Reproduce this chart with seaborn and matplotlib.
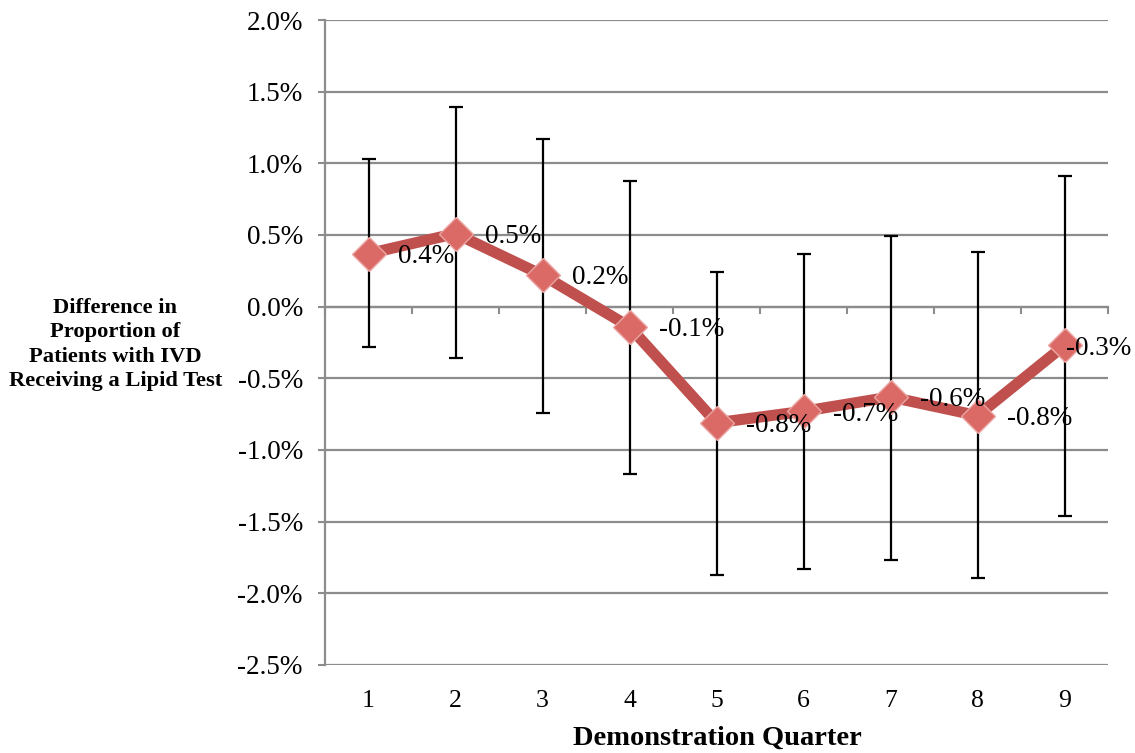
import matplotlib
matplotlib.use("Agg")
import matplotlib.pyplot as plt
import seaborn as sns
import pandas as pd
from matplotlib.ticker import FuncFormatter

# Difference in proportion of IVD patients receiving a lipid test, by quarter (%)
quarters = [1, 2, 3, 4, 5, 6, 7, 8, 9]
difference = [0.37, 0.51, 0.22, -0.14, -0.81, -0.73, -0.63, -0.76, -0.27]
ci_lower = [-0.28, -0.36, -0.74, -1.17, -1.87, -1.83, -1.77, -1.89, -1.46]
ci_upper = [1.03, 1.39, 1.17, 0.88, 0.24, 0.37, 0.49, 0.38, 0.91]
y_ticks = [-2.5, -2.0, -1.5, -1.0, -0.5, 0.0, 0.5, 1.0, 1.5, 2.0]
x_label = "Demonstration Quarter"
y_label = "Difference in\nProportion of\nPatients with IVD\nReceiving a Lipid Test"

df = pd.DataFrame({"quarter": quarters, "difference": difference,
                   "lower": ci_lower, "upper": ci_upper})

sns.set_theme(style="white")
plt.rcParams["font.family"] = ["Liberation Serif", "DejaVu Serif"]
plt.rcParams["text.color"] = "black"

W, H, DPI = 1135, 753, 100
fig = plt.figure(figsize=(W / DPI, H / DPI), dpi=DPI)
ax = fig.add_axes([325 / W, 88 / H, 783 / W, 645 / H])

GRID = "#8C8C8C"
RED = "#C0504D"

# confidence intervals
ax.errorbar(df["quarter"], df["difference"],
            yerr=[df["difference"] - df["lower"], df["upper"] - df["difference"]],
            fmt="none", ecolor="black", elinewidth=1.6, capsize=5,
            capthick=1.6, zorder=3)

# the series itself
sns.lineplot(data=df, x="quarter", y="difference", ax=ax, color=RED,
             linewidth=8, marker="D", markersize=17,
             markerfacecolor="#DB6A66", markeredgecolor="#EBA5A2",
             markeredgewidth=1.0, zorder=4)

ax.set_xlim(0.5, 9.5)
ax.set_ylim(y_ticks[0], y_ticks[-1])
ax.set_yticks(y_ticks)
ax.yaxis.set_major_formatter(FuncFormatter(lambda v, _: f"{v:.1f}%"))
ax.set_xticks(quarters)
ax.set_xticklabels([str(q) for q in quarters])

ax.yaxis.grid(True, color=GRID, linewidth=1.6, zorder=0)
ax.xaxis.grid(False)
for side in ["top", "right", "bottom"]:
    ax.spines[side].set_visible(False)
ax.spines["left"].set_color(GRID)
ax.spines["left"].set_linewidth(1.6)

ax.tick_params(axis="y", direction="out", left=True, length=5, width=1.5,
               color=GRID, pad=11, labelsize=19.5, labelcolor="black")
ax.tick_params(axis="x", length=0, pad=18, labelsize=18.5, labelcolor="black")

# category axis crossing at zero, with ticks between quarters
zero_axis = ax.secondary_xaxis(0, transform=ax.transData)
zero_axis.set_alignment("bottom")
zero_axis.set_xticks([q - 0.5 for q in quarters] + [quarters[-1] + 0.5])
zero_axis.tick_params(axis="x", direction="out", length=5, width=1.5,
                      color=GRID, labelbottom=False)
zero_axis.spines["bottom"].set_color(GRID)
zero_axis.spines["bottom"].set_linewidth(1.6)

ax.set_xlabel(x_label, fontweight="bold", fontsize=20.5, va="center",
              color="black")
ax.xaxis.set_label_coords(0.5006, -0.113)
ax.set_ylabel(y_label, rotation=0, fontweight="bold", fontsize=16.2,
              ha="center", va="center", linespacing=1.3, color="black")
ax.yaxis.set_label_coords(-0.268, 0.497)

# value labels to the right of each point
labels = []
for q, v in zip(quarters, difference):
    t = ax.annotate(f"{v:.1f}%", (q, v), xytext=(21, -2),
                    textcoords="offset points", ha="left", va="center",
                    fontsize=19.5, color="black", zorder=6)
    labels.append(t)

# keep labels inside the figure
fig.canvas.draw()
renderer = fig.canvas.get_renderer()
for t in labels:
    bb = t.get_window_extent(renderer)
    overflow = bb.x1 - (W - 4)
    if overflow > 0:
        dx, dy = t.xyann
        t.xyann = (dx - overflow * 72 / DPI, dy)

fig.savefig("out.png", dpi=DPI)
